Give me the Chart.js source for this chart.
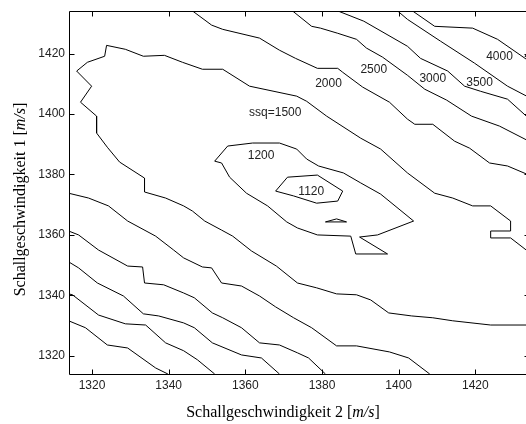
<!DOCTYPE html>
<html>
<head>
<meta charset="utf-8">
<script src="https://cdn.jsdelivr.net/npm/chart.js@4.4.0/dist/chart.umd.min.js"></script>
<style>
html, body { margin: 0; padding: 0; background: #fff; overflow: hidden; }
#wrap { width: 540px; height: 424px; }
</style>
</head>
<body>
<div id="wrap"><canvas id="myChart" width="540" height="424"></canvas></div>
<script>
// ------> axis ticks <------
const xTicks = [1320, 1340, 1360, 1380, 1400, 1420];
const yTicks = [1320, 1340, 1360, 1380, 1400, 1420];

// ------> contour lines [x, y] in m/s <------
const ssq1120 = [[1367.9,1374.5],[1371.0,1379.1],[1378.8,1379.8],[1385.4,1374.5],[1384.1,1371.2],
  [1378.6,1370.5],[1372.6,1372.9],[1367.9,1374.5]];
const ssq1120b = [[1380.9,1364.3],[1383.8,1365.3],[1386.4,1364.3],[1380.9,1364.3]];
const ssq1200 = [[1352.0,1384.4],[1355.4,1389.4],[1361.9,1390.4],[1368.9,1390.4],[1373.4,1388.4],
  [1376.0,1385.1],[1379.1,1382.8],[1385.6,1380.5],[1390.1,1377.2],[1395.3,1373.5],[1403.9,1364.6],
  [1394.5,1360.0],[1389.8,1359.3],[1397.1,1353.7],[1388.8,1353.7],[1387.5,1359.6],[1378.8,1360.0],
  [1373.6,1362.3],[1370.8,1364.3],[1365.8,1369.6],[1360.3,1373.8],[1355.9,1379.1],[1353.8,1383.8],
  [1352.0,1384.4]];
const ssq1500 = [[1434,1354.3],[1429.2,1359.0],[1424.0,1359.0],[1424.0,1361.3],[1429.2,1361.3],
  [1429.2,1364.6],[1424.0,1369.6],[1419.3,1369.6],[1414.1,1372.2],[1409.4,1373.8],[1402.3,1380.5],
  [1395.3,1388.4],[1390.1,1392.0],[1381.2,1399.3],[1376.0,1404.2],[1373.4,1405.9],[1361.1,1409.2],
  [1354.1,1414.8],[1348.8,1414.8],[1343.6,1417.1],[1338.9,1419.4],[1333.4,1419.1],[1328.7,1421.4],
  [1323.8,1422.7],[1323.3,1419.1],[1318.8,1417.1],[1316.0,1414.2],[1319.9,1409.2],[1317.0,1403.9],
  [1321.2,1399.3],[1321.2,1393.7],[1324.0,1389.0],[1327.2,1384.1],[1333.7,1378.8],[1333.7,1374.2],
  [1339.2,1372.2],[1343.9,1369.6],[1346.2,1367.9],[1349.4,1364.6],[1353.8,1361.6],[1356.7,1359.6],
  [1361.6,1354.7],[1368.1,1349.7],[1373.6,1344.1],[1378.6,1342.5],[1383.8,1340.5],[1389.0,1340.2],
  [1392.7,1338.5],[1397.4,1334.2],[1403.4,1333.2],[1408.9,1332.6],[1414.1,1331.6],[1424.0,1330.2],
  [1434,1330.2]];
const ssq2000 = [[1346.2,1434.1],[1351.2,1429.4],[1354.1,1428.0],[1363.7,1425.1],[1368.9,1421.1],
  [1373.1,1418.4],[1378.8,1415.1],[1384.1,1415.1],[1385.4,1413.8],[1390.6,1408.9],[1397.6,1403.9],
  [1402.3,1398.3],[1404.2,1396.6],[1408.9,1396.6],[1414.6,1391.0],[1418.5,1388.7],[1423.7,1383.8],
  [1428.4,1382.8],[1434,1379.8]];
const ssq2500 = [[1372.3,1434.1],[1377.3,1429.0],[1379.6,1428.4],[1384.1,1426.7],[1389.0,1424.7],
  [1391.6,1421.8],[1395.8,1418.8],[1402.3,1412.8],[1406.8,1408.2],[1412.5,1404.6],[1419.0,1399.3],
  [1426.3,1396.0],[1434,1391.0]];
const ssq3000 = [[1384.1,1434.1],[1390.9,1430.7],[1402.3,1422.4],[1405.7,1418.4],[1412.8,1414.2],
  [1417.2,1409.2],[1421.4,1407.5],[1428.4,1404.9],[1434,1398.5]];
const ssq3500 = [[1399.7,1434.1],[1402.3,1431.3],[1410.9,1424.1],[1419.8,1416.8],[1428.4,1409.2],
  [1434,1405.5]];
const ssq4000 = [[1403.6,1434.1],[1409.4,1429.0],[1419.3,1428.4],[1425.8,1424.7],[1434,1417.5]];
// lower left side of the valley
const low2000 = [[1313.9,1373.8],[1319.1,1372.2],[1324.3,1369.6],[1329.3,1364.6],[1336.6,1359.6],
  [1341.3,1355.0],[1343.9,1352.4],[1348.8,1349.4],[1351.2,1349.1],[1353.8,1344.1],[1359.0,1343.1],
  [1363.7,1339.8],[1367.9,1336.2],[1372.6,1332.6],[1377.3,1329.3],[1383.8,1323.3],[1389.0,1323.3],
  [1397.6,1321.3],[1402.6,1319.3],[1408.1,1314.0]];
const low2500 = [[1313.9,1361.3],[1316.5,1360.0],[1321.7,1355.0],[1329.3,1349.7],[1333.2,1349.4],
  [1333.7,1344.1],[1338.7,1343.5],[1343.9,1340.8],[1346.7,1339.2],[1351.4,1334.2],[1354.1,1332.6],
  [1359.0,1329.3],[1363.7,1324.3],[1368.9,1323.6],[1373.6,1321.0],[1376.5,1319.3],[1380.9,1314.0]];
const low3000 = [[1313.9,1351.1],[1316.5,1349.1],[1321.4,1344.1],[1328.2,1339.8],[1333.4,1333.9],
  [1337.4,1333.2],[1343.9,1330.9],[1346.7,1329.3],[1351.4,1324.3],[1359.0,1320.3],[1364.2,1319.3],
  [1368.9,1314.0]];
const low3500 = [[1313.9,1340.5],[1314.9,1340.2],[1321.7,1333.5],[1328.7,1330.6],[1334.0,1330.2],
  [1339.2,1324.3],[1343.9,1321.7],[1347.5,1318.7],[1352.0,1314.0]];
const low4000 = [[1313.9,1331.6],[1318.3,1329.3],[1324.0,1323.6],[1329.3,1322.6],[1336.6,1316.0],
  [1339.8,1314.0]];

// ------> contour labels <------
const labelText = ['ssq=1500', '2000', '2500', '3000', '3500', '4000', '4500', '1200', '1120'];
const labelX = [1367.8, 1381.7, 1393.5, 1408.9, 1421.1, 1426.3, 1436.3, 1364.1, 1377.2];
const labelY = [1400.3, 1409.9, 1414.8, 1411.8, 1410.5, 1418.8, 1419.4, 1386.1, 1374.2];

const allLines = [ssq1120, ssq1120b, ssq1200, ssq1500, ssq2000, ssq2500, ssq3000, ssq3500, ssq4000,
  low2000, low2500, low3000, low3500, low4000];

const sans = '"Liberation Sans", Arial, Helvetica, sans-serif';
const serif = '"Liberation Serif", "Times New Roman", Times, serif';

// box + inward ticks like matlab
const frame = {
  id: 'frame',
  afterDatasetsDraw(chart) {
    const { ctx, chartArea: a, scales: { x, y } } = chart;
    const L = Math.round(a.left) + 0.5, R = Math.round(a.right) + 0.5;
    const T = Math.round(a.top) + 0.5, B = Math.round(a.bottom) + 0.5;
    ctx.save();
    ctx.strokeStyle = '#000';
    ctx.lineWidth = 1;
    ctx.beginPath();
    ctx.rect(L, T, R - L, B - T);
    for (const v of xTicks) {
      const px = Math.round(x.getPixelForValue(v)) + 0.5;
      ctx.moveTo(px, B); ctx.lineTo(px, B - 5);
      ctx.moveTo(px, T); ctx.lineTo(px, T + 5);
    }
    for (const v of yTicks) {
      const py = Math.round(y.getPixelForValue(v)) + 0.5;
      ctx.moveTo(L, py); ctx.lineTo(L + 5, py);
      ctx.moveTo(R, py); ctx.lineTo(R - 5, py);
    }
    ctx.stroke();
    ctx.restore();
  }
};

// level labels and axis titles
const texts = {
  id: 'texts',
  afterDraw(chart) {
    const { ctx, chartArea: a, scales: { x, y } } = chart;
    ctx.save();
    ctx.fillStyle = '#222';
    ctx.font = '12px ' + sans;
    ctx.textAlign = 'center';
    ctx.textBaseline = 'middle';
    labelText.forEach((t, i) => {
      ctx.fillText(t, x.getPixelForValue(labelX[i]), y.getPixelForValue(labelY[i]));
    });

    function title(num, cx, cy, rot) {
      const segs = [['Schallgeschwindigkeit ' + num + ' [', ''], ['m/s', 'italic '], [']', '']];
      let w = 0;
      for (const s of segs) { ctx.font = s[1] + '16px ' + serif; w += ctx.measureText(s[0]).width; }
      ctx.save();
      ctx.translate(cx, cy);
      ctx.rotate(rot);
      ctx.textAlign = 'left';
      ctx.textBaseline = 'alphabetic';
      ctx.fillStyle = '#000';
      let pos = -w / 2;
      for (const s of segs) {
        ctx.font = s[1] + '16px ' + serif;
        ctx.fillText(s[0], pos, 0);
        pos += ctx.measureText(s[0]).width;
      }
      ctx.restore();
    }
    title('2', a.left + 214, 417, 0);
    title('1', 25, 199.5, -Math.PI / 2);
    ctx.restore();
  }
};

new Chart(document.getElementById('myChart'), {
  type: 'scatter',
  data: {
    datasets: allLines.map(line => ({
      data: line.map(p => ({ x: p[0], y: p[1] })),
      showLine: true,
      borderColor: '#000',
      borderWidth: 1,
      pointRadius: 0,
      tension: 0,
      fill: false
    }))
  },
  options: {
    responsive: false,
    animation: false,
    devicePixelRatio: 1,
    layout: { padding: { left: 0, top: 11, right: 11, bottom: 0 } },
    plugins: { legend: { display: false }, tooltip: { enabled: false } },
    scales: {
      x: {
        type: 'linear', min: 1314, max: 1434,
        afterBuildTicks: ax => { ax.ticks = xTicks.map(v => ({ value: v })); },
        afterFit: ax => { ax.height = 50; },
        grid: { display: false, drawTicks: false },
        border: { display: false },
        ticks: { padding: 4, color: '#222', font: { family: sans, size: 12 }, callback: v => String(v) }
      },
      y: {
        type: 'linear', min: 1314, max: 1434,
        afterBuildTicks: ax => { ax.ticks = yTicks.map(v => ({ value: v })); },
        afterFit: ax => { ax.width = 69; },
        grid: { display: false, drawTicks: false },
        border: { display: false },
        ticks: { padding: 4, color: '#222', font: { family: sans, size: 12 }, callback: v => String(v) }
      }
    }
  },
  plugins: [frame, texts]
});
</script>
</body>
</html>
